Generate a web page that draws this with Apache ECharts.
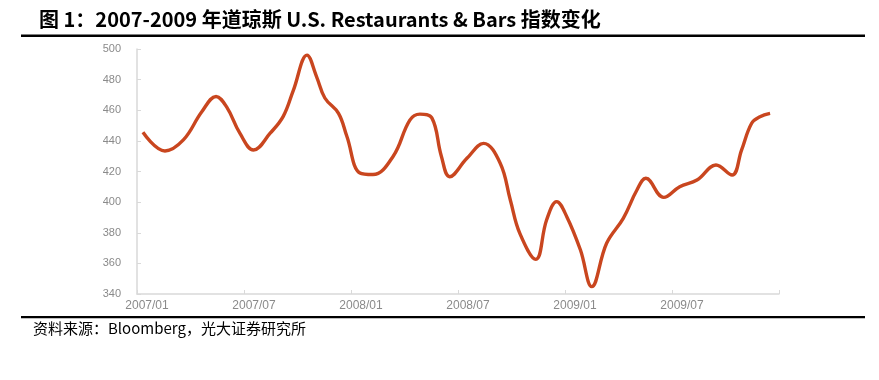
<!DOCTYPE html>
<html><head><meta charset="utf-8">
<script src="https://cdn.jsdelivr.net/npm/echarts@6/dist/echarts.min.js"></script>
<style>html,body{margin:0;padding:0;background:#fff}#c{width:879px;height:380px}</style>
</head><body><div id="c"></div>
<script>
const titleText = '图 1：2007-2009 年道琼斯 U.S. Restaurants & Bars 指数变化';
const sourceText = '资料来源：Bloomberg，光大证券研究所';
const tickLabels = ['2007/01','2007/07','2008/01','2008/07','2009/01','2009/07',''];
const dates = ['2007-01-11','2007-02-18','2007-03-19','2007-04-20','2007-05-14','2007-06-02','2007-06-24','2007-07-17','2007-08-15','2007-09-07','2007-09-24','2007-10-17','2007-11-03','2007-11-17','2007-12-10','2007-12-24','2008-01-16','2008-02-08','2008-03-12','2008-04-10','2008-04-27','2008-05-17','2008-06-03','2008-06-17','2008-07-16','2008-08-14','2008-09-12','2008-09-29','2008-10-15','2008-11-12','2008-11-30','2008-12-17','2009-01-04','2009-01-27','2009-02-16','2009-03-11','2009-04-09','2009-05-02','2009-05-17','2009-06-17','2009-07-14','2009-08-13','2009-09-15','2009-10-12','2009-10-28','2009-11-15','2009-11-29','2009-12-16'];
const values = [445.6,433.4,440.6,459,469,462,445,434,445,456,473,496,482,468,458,443,419,418,430,453.6,457.5,455,430,416.6,428.6,438.4,425.4,401.4,379.6,362.6,388.3,400.3,390.5,368.7,344.8,373.1,389.4,407.9,415.6,403.1,410.1,414.4,424.2,417.7,434,451.5,455.8,458];

function monthIndex(s){const p=s.split('-').map(Number);return (p[0]-2007)*12+(p[1]-1)+(p[2]-1)/30;}
const seriesData = dates.map((d,i)=>[monthIndex(d), values[i]]);

const chart = echarts.init(document.getElementById('c'));
chart.setOption({
  animation:false,
  title:{text:titleText,left:34,top:4,textStyle:{fontFamily:'Noto Sans CJK SC',fontSize:20,fontWeight:'bold',color:'#000'}},
  graphic:[
    {type:'rect',shape:{x:21,y:34.5,width:844,height:2.5},style:{fill:'#000'}},
    {type:'rect',shape:{x:21,y:316,width:844,height:2.2},style:{fill:'#000'}},
    {type:'text',left:33,top:321,style:{text:sourceText,font:'15px "Noto Sans CJK SC"',fill:'#000'}}
  ],
  grid:{left:137,right:100,top:49,bottom:86},
  xAxis:{type:'value',min:0,max:36,interval:6,
    axisLine:{lineStyle:{color:'#d9d9d9',width:1.5}},
    axisTick:{inside:true,length:4,lineStyle:{color:'#d9d9d9'}},
    splitLine:{show:false},
    axisLabel:{margin:6,color:'#8a8a8a',fontFamily:'Arial, Liberation Sans',fontSize:12,padding:[0,0,0,20],
      formatter:v=>tickLabels[Math.round(v/6)]||''}},
  yAxis:{type:'value',min:340,max:500,interval:20,
    axisLine:{show:true,lineStyle:{color:'#d9d9d9',width:1.5}},
    axisTick:{show:true,inside:true,length:4,lineStyle:{color:'#d9d9d9'}},
    splitLine:{show:false},
    axisLabel:{margin:16,color:'#8a8a8a',fontFamily:'Arial, Liberation Sans',fontSize:11}},
  series:[{type:'line',data:seriesData,smooth:0.4,showSymbol:false,
    lineStyle:{color:'#C9461F',width:3.4}}]
});
</script></body></html>
